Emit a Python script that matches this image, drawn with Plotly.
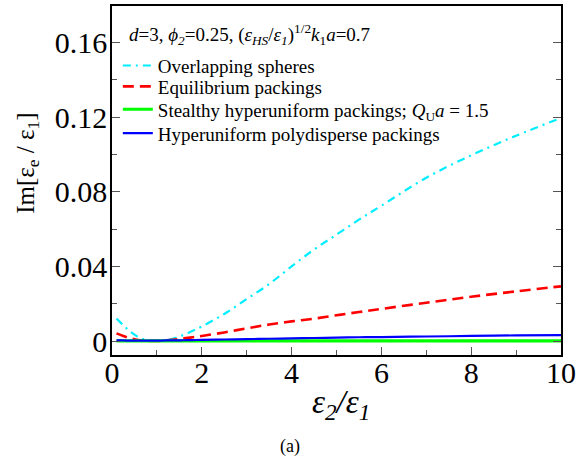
import plotly.graph_objects as go

# x = eps2/eps1
x_vals = [0.1, 0.25, 0.4, 0.55, 0.7, 0.85, 1.0, 1.2, 1.4, 1.6, 1.8, 2.0,
          2.5, 3.0, 3.5, 4.0, 4.5, 5.0, 5.5, 6.0, 7.0, 8.0, 9.0, 10.0]

overlapping = [0.0121, 0.0085, 0.0052, 0.0026, 0.0010, 0.0002, 0.0, 0.0004, 0.0016,
               0.0033, 0.0055, 0.0078, 0.0145, 0.0225, 0.0305, 0.040, 0.049, 0.057,
               0.065, 0.0725, 0.0875, 0.0995, 0.110, 0.1195]

equilibrium = [0.0041, 0.0027, 0.0015, 0.0007, 0.0002, 0.0, 0.0, 0.0003, 0.0008,
               0.0014, 0.0020, 0.0027, 0.0046, 0.0068, 0.0088, 0.0105, 0.0120, 0.0138,
               0.0155, 0.0172, 0.0205, 0.0237, 0.0266, 0.0293]

stealthy = [0.0001] * len(x_vals)

polydisperse = [0.0003, 0.0003, 0.0002, 0.0002, 0.0002, 0.0002, 0.0002, 0.0003, 0.0003,
                0.0004, 0.0005, 0.0006, 0.0008, 0.0010, 0.0012, 0.0014, 0.0016, 0.0018,
                0.0020, 0.0021, 0.0024, 0.0027, 0.0030, 0.0032]

names = ["Overlapping spheres",
         "Equilibrium packings",
         "Stealthy hyperuniform packings; <i>Q</i><sub>U</sub><i>a</i> = 1.5",
         "Hyperuniform polydisperse packings"]

FONT = "Liberation Serif"
LEG_FS = 19

fig = go.Figure()
fig.add_trace(go.Scatter(x=x_vals, y=overlapping, mode="lines", name=names[0], legend="legend",
                         line=dict(color="#00EEFF", width=2.2, dash="8px,5px,2px,5px", shape="spline")))
fig.add_trace(go.Scatter(x=x_vals, y=equilibrium, mode="lines", name=names[1], legend="legend2",
                         line=dict(color="#FF0000", width=2.6, dash="11px,6px", shape="spline")))
fig.add_trace(go.Scatter(x=x_vals, y=stealthy, mode="lines", name=names[2], legend="legend3",
                         line=dict(color="#00FF00", width=3.2)))
fig.add_trace(go.Scatter(x=x_vals, y=polydisperse, mode="lines", name=names[3], legend="legend4",
                         line=dict(color="#0000FF", width=2.2, shape="spline")))

axis_common = dict(showline=True, linecolor="black", linewidth=1.6, ticks="inside",
                   tickcolor="#555555", tickwidth=1.4, ticklen=8, showgrid=False,
                   zeroline=False, tickfont=dict(family=FONT, size=30, color="black"))

fig.update_xaxes(range=[0, 10], dtick=2, tick0=0, mirror=True, ticklabelstandoff=-10,
                 minor=dict(dtick=1, ticklen=5, tickcolor="#555555", ticks="inside"),
                 **axis_common)
fig.update_yaxes(range=[-0.0075, 0.1795], dtick=0.04, tick0=0, mirror="allticks",
                 ticklabelstandoff=-3,
                 minor=dict(dtick=0.02, ticklen=5, tickcolor="#555555", ticks="inside"),
                 **axis_common)

T, H = 4, 351


def py(p):
    return 1 - (p - T) / H


def leg(ypix):
    return dict(x=0.013, y=py(ypix), xanchor="left", yanchor="middle",
                bgcolor="rgba(0,0,0,0)", borderwidth=0,
                font=dict(family=FONT, size=LEG_FS, color="black"),
                itemwidth=30)


fig.update_layout(
    width=580, height=464,
    margin=dict(l=112, r=18, t=T, b=109),
    plot_bgcolor="white", paper_bgcolor="white",
    font=dict(family=FONT, color="black"),
    showlegend=True,
    legend=leg(64), legend2=leg(85), legend3=leg(108), legend4=leg(132),
    annotations=[
        dict(xref="paper", yref="paper", x=0.033, y=py(33), xanchor="left", yanchor="middle",
             showarrow=False, font=dict(family=FONT, size=LEG_FS, color="black"),
             text="<i>d</i>=3, <i>ϕ<sub>2</sub></i>=0.25, (<i>ε<sub>HS</sub></i>/<i>ε<sub>1</sub></i>)<sup>1/2</sup><i>k</i><sub>1</sub><i>a</i>=0.7"),
        dict(xref="paper", yref="paper", x=-0.19, y=py(162), xanchor="center", yanchor="middle",
             showarrow=False, textangle=-90, font=dict(family=FONT, size=25, color="black"),
             text="Im[ε<sub>e</sub> / ε<sub>1</sub>]"),
        dict(xref="paper", yref="paper", x=0.509, y=py(405), xanchor="center", yanchor="middle",
             showarrow=False, font=dict(family=FONT, size=33, color="black"),
             text="<i>ε<sub>2</sub>/ε<sub>1</sub></i>"),
        dict(xref="paper", yref="paper", x=0.396, y=py(447), xanchor="center", yanchor="middle",
             showarrow=False, font=dict(family=FONT, size=18, color="black"),
             text="(a)"),
    ],
)

fig.write_html("out.html")
